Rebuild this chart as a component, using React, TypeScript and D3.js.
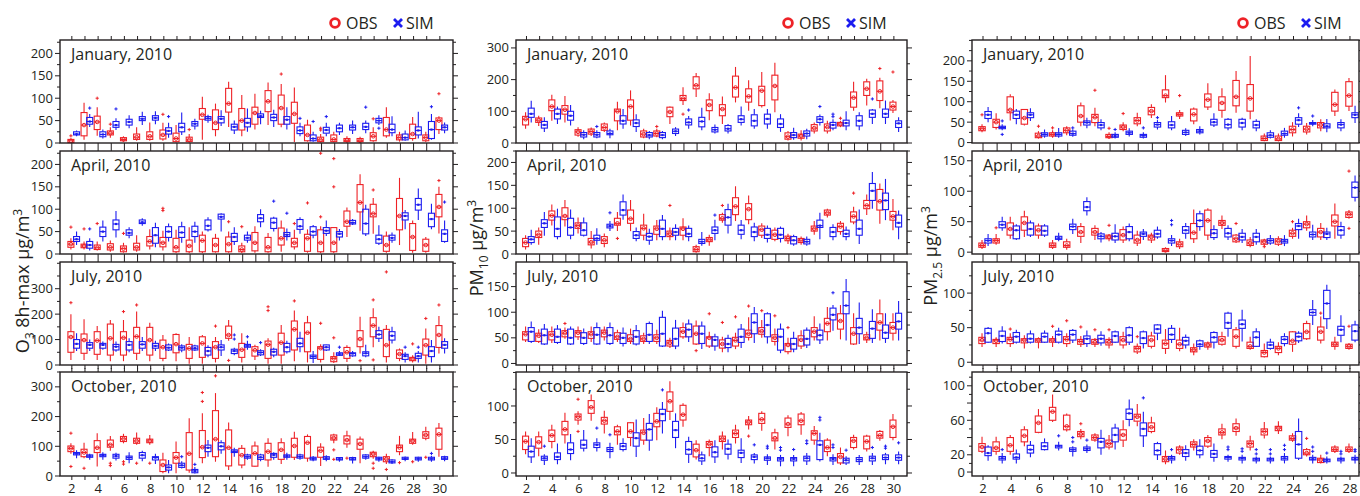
import React from 'react'
import * as d3 from 'd3'

// box = [low whisker, q1, median, q3, high whisker]
type Box = [number, number, number, number, number]
// outlier = [day, value, series (0 obs, 1 sim)]
type Out = [number, number, number]

// ---------- O3 8h-max, days 2..30 ----------
const o3JanObs: Box[] = [[0,1,5,8,10],[7,16,40,68,90],[16,30,47,60,80],[12,18,22,27,35],[3,5,8,12,15],[5,8,13,20,35],[5,8,15,25,46],[5,9,18,29,45],[1,3,10,22,40],[1,3,7,13,20],[7,53,63,77,103],[15,30,45,74,88],[36,69,88,122,137],[15,29,50,77,107],[30,42,67,80,110],[40,70,93,117,135],[35,42,78,107,132],[2,44,65,91,124],[3,5,18,40,52],[1,3,7,13,20],[1,3,8,18,25],[1,3,6,10,15],[1,3,5,10,14],[3,5,15,23,35],[12,16,30,57,80],[3,7,12,18,25],[5,10,20,42,58],[2,5,12,18,25],[20,30,50,56,60]]
const o3JanSim: Box[] = [[15,18,20,25,28],[36,42,48,57,65],[10,14,19,25,30],[29,35,40,48,55],[33,40,47,53,62],[40,50,54,59,70],[42,51,56,61,71],[12,20,27,34,45],[18,25,35,44,68],[30,38,43,48,54],[45,51,55,59,63],[38,45,54,59,73],[20,29,36,42,50],[25,36,45,55,77],[42,57,60,65,72],[36,50,57,64,74],[30,42,52,59,80],[15,21,28,36,45],[3,5,10,18,25],[15,22,29,35,45],[18,25,33,40,45],[20,29,35,40,50],[22,30,36,44,50],[40,45,50,55,62],[15,23,30,42,60],[5,7,12,20,28],[10,18,28,36,70],[7,10,30,48,65],[22,29,35,40,46]]
const o3JanOut: Out[] = [[2,16,0],[4,100,0],[5,42,0],[9,64,0],[11,30,0],[18,154,0],[21,29,0],[21,33,0],[25,54,0],[30,110,0],[3,78,1],[5,76,1],[9,59,1],[19,55,1],[20,48,1],[21,59,1],[24,80,1],[25,33,1],[29,81,1]]

const o3AprObs: Box[] = [[10,15,22,28,35],[10,14,18,22,28],[8,10,14,20,28],[5,9,15,23,30],[3,5,12,18,25],[5,9,15,24,42],[10,18,28,39,55],[8,16,25,37,52],[2,5,15,35,54],[2,5,18,31,60],[2,5,30,42,50],[3,5,20,35,45],[3,5,22,38,50],[2,5,10,18,25],[3,7,25,48,62],[3,5,15,37,47],[5,20,35,58,75],[10,16,25,35,54],[3,6,35,44,55],[2,5,25,54,62],[2,5,25,59,60],[38,62,72,96,104],[52,94,115,155,178],[45,83,90,111,125],[3,6,20,40,50],[20,54,85,124,170],[3,8,38,68,75],[3,6,20,33,38],[46,83,105,133,150]]
const o3AprSim: Box[] = [[20,28,33,39,50],[8,13,20,28,35],[28,39,50,60,75],[37,54,67,76,96],[35,42,47,54,60],[63,68,71,76,80],[15,24,42,59,70],[28,37,50,61,68],[25,37,48,61,72],[25,39,50,62,72],[50,54,63,76,82],[50,78,83,89,91],[20,28,38,46,60],[25,31,36,42,50],[60,72,80,88,100],[50,57,70,80,83],[30,39,43,48,57],[45,55,62,77,82],[35,42,50,61,65],[40,46,52,59,75],[30,38,45,50,56],[65,67,70,75,78],[40,45,68,100,110],[20,24,33,42,64],[25,31,36,42,48],[55,76,85,92,98],[76,98,110,124,146],[55,61,78,91,112],[25,28,45,54,75]]
const o3AprOut: Out[] = [[2,60,0],[3,56,0],[4,68,0],[6,46,0],[9,97,0],[9,102,0],[14,72,0],[15,61,0],[19,68,0],[20,114,0],[21,83,0],[21,225,0],[22,150,0],[22,213,0],[25,143,0],[30,164,0],[3,56,1],[17,118,1],[18,91,1],[30,116,1]]

const o3JulObs: Box[] = [[20,50,110,131,200],[20,46,98,122,180],[20,42,96,131,153],[15,39,105,161,177],[15,39,107,131,177],[20,46,112,148,210],[15,39,98,148,166],[15,26,70,98,118],[15,48,82,120,125],[5,26,65,81,110],[5,30,85,111,118],[10,26,70,92,110],[95,105,118,153,177],[10,30,60,85,125],[20,35,58,72,80],[5,26,80,94,105],[5,39,88,125,157],[15,59,140,173,214],[10,52,127,166,193],[10,22,66,72,82],[8,13,26,33,50],[12,26,50,69,78],[45,72,102,135,190],[70,111,155,186,223],[10,33,78,140,157],[15,26,43,59,65],[10,17,24,30,38],[5,39,78,102,144],[45,69,118,155,193]]
const o3JulSim: Box[] = [[55,66,83,100,125],[55,66,79,88,100],[60,66,79,85,92],[52,59,72,81,92],[50,59,79,92,105],[55,66,81,92,110],[55,66,75,85,95],[55,59,68,79,85],[50,59,68,75,82],[55,59,66,75,80],[30,39,55,69,78],[35,59,70,79,98],[38,45,55,62,68],[60,70,75,81,95],[35,40,49,56,62],[30,39,52,62,68],[45,52,70,85,95],[50,72,85,105,131],[8,26,33,39,55],[55,59,70,79,80],[35,38,43,48,55],[32,36,45,48,55],[30,36,46,52,80],[90,105,120,135,150],[85,98,115,131,150],[10,22,35,42,50],[10,26,35,46,55],[10,33,55,72,98],[45,66,79,92,105]]
const o3JulOut: Out[] = [[2,245,0],[6,210,0],[7,236,0],[13,153,0],[14,18,0],[17,214,0],[17,229,0],[19,252,0],[21,164,0],[22,107,0],[24,17,0],[25,20,0],[25,256,0],[26,366,0],[28,83,0],[29,183,0],[30,236,0],[14,102,1],[14,118,1],[15,111,1],[16,88,1],[22,70,1],[27,70,1],[28,70,1]]

const o3OctObs: Box[] = [[75,82,93,101,110],[60,65,79,90,112],[32,79,95,119,144],[85,97,105,121,135],[110,116,125,133,142],[105,110,118,127,146],[105,112,118,124,138],[9,15,37,54,78],[9,43,62,79,116],[11,20,75,146,194],[43,62,97,153,211],[48,65,124,220,279],[20,34,95,155,180],[26,37,70,93,104],[31,33,76,101,116],[31,54,82,110,127],[40,56,88,112,127],[54,63,101,127,149],[48,60,112,133,140],[34,63,85,97,110],[110,121,128,138,142],[95,108,121,135,152],[43,90,108,124,133],[58,65,74,80,85],[40,48,57,65,75],[70,82,96,104,135],[105,110,118,124,148],[120,127,138,149,166],[65,90,140,161,178]]
const o3OctSim: Box[] = [[60,71,75,79,87],[55,63,67,71,75],[55,65,70,73,80],[52,60,67,73,78],[43,56,62,67,80],[50,60,70,79,85],[40,54,62,65,75],[9,20,29,37,54],[25,29,36,43,50],[8,11,17,22,30],[65,82,95,104,121],[75,88,100,112,120],[65,79,83,88,95],[55,60,65,71,75],[50,56,63,71,75],[55,63,71,76,80],[55,63,67,71,78],[55,60,65,71,75],[50,54,58,63,67],[50,56,60,65,70],[48,54,57,62,64],[42,54,57,62,65],[55,60,65,71,73],[48,54,58,63,65],[40,44,48,54,56],[50,56,58,63,66],[48,54,58,63,65],[48,54,58,63,68],[50,56,60,65,68]]
const o3OctOut: Out[] = [[2,144,0],[2,32,0],[3,26,0],[5,43,0],[5,35,0],[6,40,0],[6,48,0],[7,43,0],[8,43,0],[12,251,0],[12,281,0],[13,337,0],[22,56,0],[22,88,0],[23,60,0],[25,26,0],[25,43,0],[26,22,0],[27,45,0],[28,48,0],[29,63,0],[10,65,1],[11,39,1],[29,76,1]]

// ---------- PM10, days 2..30 ----------
const pm10JanObs: Box[] = [[45,57,75,84,97],[54,65,72,79,86],[70,102,115,136,152],[65,91,105,118,148],[20,25,35,42,50],[22,28,36,44,49],[35,40,49,60,65],[40,70,100,107,130],[55,72,115,136,166],[15,19,28,38,45],[18,22,30,38,45],[60,83,98,113,115],[120,134,140,150,176],[145,171,182,209,221],[72,102,120,136,157],[60,86,107,121,147],[128,145,175,211,240],[102,129,147,171,198],[112,118,165,179,224],[97,136,180,214,253],[8,12,20,32,38],[8,15,22,28,40],[30,38,47,58,65],[30,38,50,60,70],[50,54,60,65,70],[102,113,143,161,193],[118,150,171,193,203],[110,134,163,196,206],[95,104,115,129,136]]
const pm10JanSim: Box[] = [[65,81,92,110,133],[35,47,57,68,81],[60,76,92,107,115],[55,72,86,100,120],[12,19,26,33,40],[15,19,26,33,40],[15,26,30,38,45],[45,60,70,86,107],[35,52,63,73,91],[12,19,25,33,38],[12,17,25,33,38],[22,30,37,44,50],[45,57,65,76,85],[40,51,68,81,111],[30,35,42,49,58],[30,38,45,55,60],[55,65,75,86,115],[45,54,70,89,107],[45,60,76,91,107],[35,49,60,76,91],[10,17,25,33,48],[12,22,30,38,45],[55,65,75,83,90],[40,47,57,65,75],[40,54,63,72,100],[40,54,70,86,97],[60,81,92,104,107],[60,81,92,107,134],[35,49,62,70,81]]
const pm10JanOut: Out[] = [[12,52,0],[14,91,0],[26,78,0],[29,235,0],[30,224,0],[7,52,1],[14,104,1],[24,115,1],[25,83,1],[25,91,1],[28,139,1]]

const pm10AprObs: Box[] = [[10,16,25,34,41],[20,36,42,50,58],[62,74,84,94,108],[60,75,83,101,118],[45,56,62,68,80],[12,20,26,34,50],[15,23,30,38,45],[50,63,67,78,92],[50,67,77,96,118],[30,41,56,63,88],[30,43,55,61,74],[30,38,44,50,58],[30,41,55,59,78],[3,5,10,16,20],[18,27,31,36,42],[68,74,78,86,90],[72,86,104,123,148],[65,75,98,110,128],[35,41,53,61,67],[28,32,42,52,58],[22,29,34,39,44],[20,25,30,34,38],[42,50,55,61,72],[80,85,90,96,99],[42,49,60,67,72],[65,70,82,92,103],[85,99,106,117,130],[66,96,115,141,154],[52,74,82,93,120]]
const pm10AprSim: Box[] = [[20,25,32,38,53],[40,58,67,75,92],[32,38,55,81,99],[32,41,58,78,97],[38,41,52,68,80],[20,30,34,41,56],[50,57,61,65,72],[75,85,96,114,130],[28,34,41,49,58],[20,30,38,45,55],[30,38,55,74,85],[30,41,48,56,65],[28,38,44,56,62],[18,23,27,32,48],[30,45,52,59,75],[45,63,80,97,110],[32,43,52,63,74],[28,38,48,59,68],[25,34,42,56,62],[25,34,42,56,60],[18,22,30,38,42],[18,22,27,32,38],[32,58,62,74,90],[30,38,48,58,65],[30,38,44,52,60],[22,41,55,74,97],[99,117,138,154,179],[74,97,117,133,164],[32,59,68,85,95]]
const pm10AprOut: Out[] = [[9,34,0],[13,106,0],[17,106,0],[27,133,0],[8,90,1],[16,85,1]]

const pm10JulObs: Box[] = [[42,46,57,62,72],[40,43,54,59,67],[40,46,56,62,72],[48,52,59,64,70],[46,52,60,64,72],[42,49,57,62,72],[45,52,60,65,72],[42,47,52,60,66],[38,43,48,56,68],[38,43,48,54,60],[38,43,50,56,66],[30,34,40,45,50],[48,52,62,70,80],[36,38,58,73,84],[30,34,50,52,62],[22,30,38,46,52],[28,34,45,51,60],[45,51,58,65,90],[50,57,63,70,85],[35,43,50,56,68],[18,23,36,39,50],[28,34,46,54,65],[45,52,62,70,92],[45,62,78,88,110],[47,67,83,97,114],[36,38,58,70,98],[40,46,50,56,62],[45,65,80,97,125],[45,59,70,80,98]]
const pm10JulSim: Box[] = [[40,43,62,70,82],[36,38,55,67,77],[38,41,52,67,75],[36,38,50,67,72],[36,39,50,60,68],[36,38,56,70,80],[36,39,55,70,80],[33,39,50,59,70],[35,38,52,64,75],[38,43,56,78,82],[32,34,58,90,103],[28,34,48,69,85],[42,52,66,77,86],[28,39,58,73,82],[25,34,46,52,58],[22,31,38,49,56],[30,41,52,67,77],[40,58,80,97,110],[39,52,75,97,100],[20,26,52,67,78],[22,28,38,49,62],[30,36,48,65,70],[38,46,55,65,78],[64,85,95,108,114],[45,97,113,140,165],[38,58,70,88,119],[40,49,68,82,106],[40,49,60,75,98],[45,67,82,98,122]]
const pm10JulOut: Out[] = [[5,78,0],[15,25,0],[16,97,0],[17,80,0],[18,91,0],[19,112,0],[20,103,0],[21,93,0],[22,70,0],[25,138,1]]

const pm10OctObs: Box[] = [[28,35,47,55,62],[25,37,46,54,62],[37,47,56,64,72],[44,57,65,77,90],[72,79,84,88,92],[78,89,98,108,117],[59,73,78,83,93],[42,57,62,69,72],[40,53,62,75,76],[42,49,60,64,82],[49,69,77,89,98],[79,92,107,121,137],[69,79,87,101,104],[20,24,34,43,49],[25,38,43,47,50],[35,47,51,55,62],[44,53,59,64,72],[65,72,76,79,85],[63,74,80,89,92],[35,48,52,60,66],[55,68,73,82,86],[57,72,78,88,91],[42,49,59,63,70],[25,32,38,49,52],[12,15,24,29,38],[35,38,48,53,57],[32,36,47,55,57],[48,52,56,62,64],[49,53,69,79,88]]
const pm10OctSim: Box[] = [[15,24,32,40,52],[12,19,22,25,28],[13,20,24,30,44],[19,29,35,45,58],[32,37,42,49,64],[32,38,42,45,52],[22,32,35,38,45],[32,35,40,44,52],[24,40,52,60,80],[33,49,65,74,88],[59,78,88,95,106],[37,53,64,77,89],[15,28,35,47,54],[12,18,22,27,32],[15,24,31,39,49],[20,28,36,43,50],[15,23,30,34,52],[14,20,24,27,30],[12,19,22,24,28],[10,18,21,23,27],[10,18,21,23,27],[12,18,22,25,30],[17,20,42,48,60],[12,18,21,23,28],[12,15,19,22,25],[12,17,20,23,27],[12,18,22,25,30],[13,20,23,27,30],[13,19,23,27,32]]
const pm10OctOut: Out[] = [[6,62,0],[6,110,0],[19,55,0],[3,40,1],[7,67,1],[8,57,1],[12,124,1],[19,42,1],[20,37,1],[20,40,1],[21,34,1],[21,38,1],[22,35,1],[23,44,1],[23,48,1],[24,79,1],[24,83,1],[25,38,1],[25,42,1],[26,34,1],[28,38,1],[29,37,1],[29,40,1],[30,45,1]]

// ---------- PM2.5, days 2..28 ----------
const pm25JanObs: Box[] = [[25,29,34,39,45],[32,37,50,57,72],[54,73,80,112,118],[42,45,60,81,82],[10,12,16,23,28],[12,16,20,24,30],[18,24,30,36,40],[40,50,65,90,98],[40,49,62,69,85],[10,12,15,20,25],[28,32,38,43,50],[40,46,54,61,73],[60,68,77,86,94],[98,110,115,129,165],[58,65,69,73,80],[45,53,69,82,86],[80,87,105,119,145],[61,79,97,112,133],[73,90,112,152,175],[57,77,108,142,212],[3,5,10,16,22],[3,5,9,16,22],[15,24,32,40,50],[20,26,33,40,48],[28,36,43,49,57],[65,77,93,123,130],[77,89,115,149,158]]
const pm25JanSim: Box[] = [[50,59,68,76,87],[30,34,37,40,45],[45,59,68,77,82],[53,61,68,73,84],[12,16,20,24,32],[12,16,20,24,36],[14,18,22,28,32],[35,43,49,53,61],[30,36,43,49,57],[10,13,16,20,25],[15,20,24,28,35],[10,13,17,20,25],[32,38,44,49,55],[30,36,43,51,65],[16,20,25,30,35],[20,24,28,32,40],[38,43,50,57,72],[30,36,44,57,60],[30,38,48,57,61],[28,36,43,52,57],[10,13,18,24,30],[12,18,22,28,36],[38,45,55,61,72],[40,45,47,49,55],[25,36,40,46,58],[28,36,44,49,57],[48,61,68,73,90]]
const pm25JanOut: Out[] = [[2,68,0],[6,40,0],[7,36,0],[10,128,0],[11,35,0],[12,71,0],[16,115,0],[3,20,1],[3,53,1],[8,36,1],[11,32,1],[13,36,1],[14,61,1],[24,85,1],[25,65,1]]

const pm25AprObs: Box[] = [[5,8,11,15,20],[12,15,19,22,30],[22,28,38,48,58],[25,36,48,58,68],[22,28,36,43,47],[5,8,11,15,20],[4,8,11,17,22],[15,26,33,42,48],[20,28,33,39,44],[18,22,25,28,30],[15,20,28,37,42],[10,15,20,28,35],[15,20,25,28,32],[0,1,3,6,8],[5,9,13,17,22],[15,22,32,47,70],[20,28,52,69,72],[38,44,48,52,60],[15,17,22,28,30],[8,11,15,20,25],[10,13,17,20,22],[10,13,18,22,26],[22,26,31,36,40],[35,40,46,50,60],[20,25,33,39,48],[22,43,50,61,80],[55,57,62,66,69]]
const pm25AprSim: Box[] = [[10,15,19,22,30],[35,40,45,50,58],[20,22,36,43,46],[25,28,38,48,52],[25,28,35,43,46],[18,21,23,26,32],[30,37,42,46,55],[60,68,74,83,90],[16,22,26,30,33],[15,20,26,31,46],[18,22,33,42,47],[20,26,30,33,38],[22,25,30,36,42],[10,15,19,22,28],[22,31,36,42,48],[35,42,52,63,68],[20,24,31,37,44],[20,25,31,39,44],[15,20,25,31,38],[12,17,25,31,38],[12,15,19,22,28],[10,15,18,21,28],[22,37,43,47,55],[20,25,29,33,45],[20,24,30,33,40],[22,28,36,42,50],[83,90,106,115,126]]
const pm25AprOut: Out[] = [[3,40,0],[11,44,0],[20,47,0],[22,9,0],[24,50,0],[28,39,0],[28,133,0],[15,45,1],[15,52,1]]

const pm25JulObs: Box[] = [[22,27,32,36,42],[22,27,31,33,36],[22,27,33,36,42],[20,28,32,34,39],[20,29,32,34,36],[22,29,32,34,38],[22,27,33,37,42],[22,26,30,33,38],[22,26,29,33,35],[20,25,29,33,36],[20,25,32,37,44],[12,15,20,23,27],[20,23,32,38,44],[12,20,27,32,48],[16,20,26,32,50],[10,15,18,21,27],[18,22,25,28,30],[24,26,32,37,44],[20,23,37,47,51],[18,20,23,29,37],[7,8,14,17,27],[10,14,20,23,29],[15,26,31,44,45],[32,34,44,56,60],[27,32,44,51,66],[18,23,26,29,37],[18,20,23,26,28]]
const pm25JulSim: Box[] = [[28,29,42,49,51],[27,30,38,45,52],[27,29,37,43,47],[27,29,34,41,46],[28,29,37,42,46],[27,29,40,45,50],[28,32,40,46,48],[22,27,34,38,46],[24,28,34,39,45],[28,29,38,44,46],[25,29,39,50,52],[20,27,35,44,46],[32,42,48,54,55],[28,33,40,49,54],[20,25,31,36,40],[18,23,26,31,33],[20,29,36,43,45],[37,49,57,71,73],[30,49,55,61,76],[22,23,36,44,49],[18,20,25,29,34],[23,27,33,37,42],[28,31,37,42,45],[54,68,72,76,90],[48,63,85,104,112],[29,39,47,52,68],[29,32,45,54,60]]
const pm25JulOut: Out[] = [[4,48,0],[7,52,0],[8,60,0],[9,51,0],[10,47,0],[11,47,0],[13,37,0],[26,71,0],[28,52,0]]

const pm25OctObs: Box[] = [[22,24,29,33,41],[20,24,28,35,41],[20,24,31,40,43],[30,35,42,49,53],[45,46,57,65,73],[58,60,70,75,90],[47,49,53,66,68],[38,41,44,47,50],[35,37,40,43,45],[26,29,33,37,43],[29,37,43,49,60],[53,59,64,67,79],[45,47,52,57,64],[9,12,15,18,25],[20,22,26,29,31],[25,29,32,35,38],[28,30,36,40,43],[38,43,46,50,56],[42,47,51,56,62],[25,29,33,36,42],[39,43,47,50,58],[44,48,51,53,59],[35,37,39,42,45],[18,20,22,26,28],[10,11,14,16,20],[22,24,26,29,31],[22,24,26,29,33]]
const pm25OctSim: Box[] = [[13,19,22,29,31],[10,14,16,18,22],[10,15,17,21,26],[17,22,26,31,36],[25,26,30,34,39],[25,28,30,31,35],[18,24,26,28,30],[22,25,27,29,32],[20,28,35,39,49],[26,35,43,51,56],[53,61,68,73,84],[29,42,50,57,70],[14,20,25,33,35],[10,14,16,18,20],[13,18,22,26,31],[16,20,25,30,38],[12,17,21,25,33],[12,15,17,18,20],[10,14,16,17,20],[10,13,15,16,18],[10,13,15,16,18],[10,14,16,18,22],[14,16,32,47,62],[10,14,15,17,20],[10,12,14,15,18],[10,13,15,16,18],[10,14,15,17,20]]
const pm25OctOut: Out[] = [[9,56,0],[25,39,0],[3,26,1],[7,42,1],[8,35,1],[8,40,1],[9,37,1],[13,86,1],[15,26,1],[19,26,1],[19,29,1],[20,24,1],[20,27,1],[21,21,1],[21,26,1],[22,21,1],[22,26,1],[23,26,1],[23,31,1],[25,24,1],[25,29,1],[26,22,1],[27,21,1],[27,24,1],[28,24,1],[28,26,1]]

const months = ['January, 2010', 'April, 2010', 'July, 2010', 'October, 2010']
const rowsY: [number, number][] = [[40, 143], [151, 254], [262, 365], [372, 476]]

const RED = '#ee2227'
const BLUE = '#1c1cf0'
const INK = '#231f20'
const FONT = '"Open Sans", "DejaVu Sans", sans-serif'

type Panel = { obs: Box[]; sim: Box[]; out: Out[]; domain: [number, number]; ticks: number[]; labels: number[]; minor: number }
type Column = { x0: number; x1: number; xDomain: [number, number]; lastDay: number; xLabels: number[]; legendX: number; panels: Panel[] }

const byStep = (a: number, b: number, s: number) => d3.range(a, b + 0.001, s)

const columns: Column[] = [
  {
    x0: 60, x1: 453, xDomain: [1.1, 31], lastDay: 30, xLabels: byStep(2, 30, 2), legendX: 335,
    panels: [
      { obs: o3JanObs, sim: o3JanSim, out: o3JanOut, domain: [0, 230], ticks: byStep(0, 200, 50), labels: byStep(0, 200, 50), minor: 25 },
      { obs: o3AprObs, sim: o3AprSim, out: o3AprOut, domain: [0, 230], ticks: byStep(0, 200, 50), labels: byStep(0, 200, 50), minor: 25 },
      { obs: o3JulObs, sim: o3JulSim, out: o3JulOut, domain: [0, 405], ticks: byStep(0, 300, 100), labels: byStep(0, 300, 100), minor: 50 },
      { obs: o3OctObs, sim: o3OctSim, out: o3OctOut, domain: [0, 350], ticks: byStep(0, 300, 100), labels: byStep(0, 300, 100), minor: 50 },
    ],
  },
  {
    x0: 516, x1: 907, xDomain: [1.2, 31], lastDay: 30, xLabels: byStep(2, 30, 2), legendX: 788,
    panels: [
      { obs: pm10JanObs, sim: pm10JanSim, out: pm10JanOut, domain: [0, 325], ticks: byStep(0, 300, 100), labels: byStep(0, 300, 100), minor: 50 },
      { obs: pm10AprObs, sim: pm10AprSim, out: pm10AprOut, domain: [0, 225], ticks: byStep(0, 200, 50), labels: byStep(0, 200, 50), minor: 25 },
      { obs: pm10JulObs, sim: pm10JulSim, out: pm10JulOut, domain: [-3, 198], ticks: byStep(0, 150, 50), labels: byStep(0, 150, 50), minor: 25 },
      { obs: pm10OctObs, sim: pm10OctSim, out: pm10OctOut, domain: [-4.5, 150.7], ticks: byStep(0, 100, 50), labels: byStep(0, 100, 50), minor: 25 },
    ],
  },
  {
    x0: 972, x1: 1359, xDomain: [1.22, 28.64], lastDay: 28, xLabels: byStep(2, 28, 2), legendX: 1243,
    panels: [
      { obs: pm25JanObs, sim: pm25JanSim, out: pm25JanOut, domain: [-1, 251], ticks: byStep(0, 200, 50), labels: byStep(0, 200, 50), minor: 25 },
      { obs: pm25AprObs, sim: pm25AprSim, out: pm25AprOut, domain: [-3, 166], ticks: byStep(0, 150, 50), labels: byStep(0, 150, 50), minor: 25 },
      { obs: pm25JulObs, sim: pm25JulSim, out: pm25JulOut, domain: [-4, 145], ticks: byStep(0, 100, 50), labels: byStep(0, 100, 50), minor: 25 },
      { obs: pm25OctObs, sim: pm25OctSim, out: pm25OctOut, domain: [-4.6, 116], ticks: byStep(0, 100, 20), labels: [0, 20, 60, 100], minor: 10 },
    ],
  },
]

function BoxMark({ x, b, y, w, color, kind }: { x: number; b: Box; y: d3.ScaleLinear<number, number>; w: number; color: string; kind: number }) {
  const [lo, q1, md, q3, hi] = b
  return (
    <g stroke={color} fill="none" strokeWidth={1.1}>
      <line x1={x} x2={x} y1={y(hi)} y2={y(q3)} />
      <line x1={x} x2={x} y1={y(q1)} y2={y(lo)} />
      <rect x={x - w / 2} y={y(q3)} width={w} height={Math.max(0.8, y(q1) - y(q3))} />
      <line x1={x - w / 2} x2={x + w / 2} y1={y(md)} y2={y(md)} />
      {kind === 0
        ? <circle cx={x} cy={y(md)} r={1.8} strokeWidth={1} />
        : <rect x={x - 1.1} y={y(md) - 1.1} width={2.2} height={2.2} fill={color} stroke="none" />}
    </g>
  )
}

function PanelView({ col, p, row }: { col: Column; p: Panel; row: number }) {
  const [top, bottom] = rowsY[row]
  const x = d3.scaleLinear().domain(col.xDomain).range([col.x0, col.x1])
  const y = d3.scaleLinear().domain(p.domain).range([bottom, top])
  const w = col.lastDay === 28 ? 6.4 : 6
  const days = d3.range(1, 32).filter(d => x(d) > col.x0 + 1 && x(d) < col.x1 - 1)
  const minors = byStep(p.domain[0] < 0 ? 0 : p.domain[0], p.domain[1], p.minor).filter(v => !p.ticks.includes(v))
  const obsX = (d: number) => x(d - 0.07)
  const simX = (d: number) => x(d + 0.36)
  return (
    <g>
      {p.obs.map((b, i) => <BoxMark key={'o' + i} x={obsX(i + 2)} b={b} y={y} w={w} color={RED} kind={0} />)}
      {p.sim.map((b, i) => <BoxMark key={'s' + i} x={simX(i + 2)} b={b} y={y} w={w} color={BLUE} kind={1} />)}
      {p.out.map(([d, v, s], i) => {
        const cx = s === 0 ? obsX(d) : simX(d)
        const cy = y(v)
        return (
          <path key={'u' + i} d={`M${cx - 1.6},${cy}H${cx + 1.6}M${cx},${cy - 1.6}V${cy + 1.6}`} stroke={s === 0 ? RED : BLUE} strokeWidth={1} />
        )
      })}
      <rect x={col.x0} y={top} width={col.x1 - col.x0} height={bottom - top} fill="none" stroke={INK} strokeWidth={1.4} />
      {days.map(d => (
        <g key={'t' + d} stroke={INK} strokeWidth={1}>
          <line x1={x(d)} x2={x(d)} y1={top} y2={top - 4} />
          <line x1={x(d)} x2={x(d)} y1={bottom} y2={bottom + 4} />
        </g>
      ))}
      {p.ticks.map(v => (
        <g key={'y' + v} stroke={INK} strokeWidth={1}>
          <line x1={col.x0} x2={col.x0 - 5} y1={y(v)} y2={y(v)} />
          <line x1={col.x1} x2={col.x1 + 5} y1={y(v)} y2={y(v)} />
        </g>
      ))}
      {minors.map(v => (
        <g key={'m' + v} stroke={INK} strokeWidth={1}>
          <line x1={col.x0} x2={col.x0 - 3} y1={y(v)} y2={y(v)} />
          <line x1={col.x1} x2={col.x1 + 3} y1={y(v)} y2={y(v)} />
        </g>
      ))}
      {p.labels.map(v => (
        <text key={'l' + v} x={col.x0 - 7} y={y(v)} dy="0.35em" textAnchor="end" fontSize={13} fill={INK}>{v}</text>
      ))}
      <text x={col.x0 + 11} y={top + 20} fontSize={16} fill={INK}>{months[row]}</text>
      {row === 3 && col.xLabels.map(d => (
        <text key={'x' + d} x={x(d)} y={bottom + 17} textAnchor="middle" fontSize={13} fill={INK}>{d}</text>
      ))}
    </g>
  )
}

function Legend({ x }: { x: number }) {
  return (
    <g>
      <circle cx={x} cy={23} r={4.4} fill="none" stroke={RED} strokeWidth={2.8} />
      <text x={x + 11} y={29} fontSize={16} fill={INK}>OBS</text>
      <path d={`M${x + 59},${19}l8,8M${x + 67},${19}l-8,8`} stroke={BLUE} strokeWidth={2.8} />
      <text x={x + 71} y={29} fontSize={16} fill={INK}>SIM</text>
    </g>
  )
}

export default function App() {
  return (
    <svg width={1360} height={496} style={{ display: 'block', position: 'absolute', left: 0, top: 0, background: '#fff' }} fontFamily={FONT}>
      {columns.map((col, ci) => (
        <g key={ci}>
          <Legend x={col.legendX} />
          {col.panels.map((p, ri) => <PanelView key={ri} col={col} p={p} row={ri} />)}
        </g>
      ))}
      <text transform="translate(29,281) rotate(-90)" textAnchor="middle" fontSize={18} fill={INK}>
        O<tspan dy={5} fontSize={12}>3</tspan><tspan dy={-5}> 8h-max  μg/m</tspan><tspan dy={-7} fontSize={12}>3</tspan>
      </text>
      <text transform="translate(483,248) rotate(-90)" textAnchor="middle" fontSize={18} fill={INK}>
        PM<tspan dy={5} fontSize={12}>10</tspan><tspan dy={-5}>  μg/m</tspan><tspan dy={-7} fontSize={12}>3</tspan>
      </text>
      <text transform="translate(937,256) rotate(-90)" textAnchor="middle" fontSize={18} fill={INK}>
        PM<tspan dy={5} fontSize={12}>2.5</tspan><tspan dy={-5}>  μg/m</tspan><tspan dy={-7} fontSize={12}>3</tspan>
      </text>
    </svg>
  )
}
